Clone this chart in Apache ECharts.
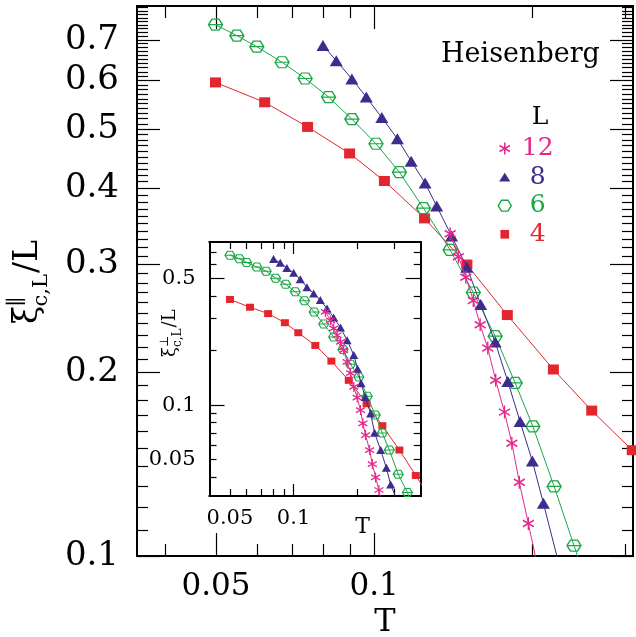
<!DOCTYPE html>
<html>
<head>
<meta charset="utf-8">
<script src="https://cdn.jsdelivr.net/npm/echarts@6/dist/echarts.min.js"></script>
<style>
  html, body { margin: 0; padding: 0; background: #fff; }
  #chart { width: 636px; height: 637px; }
</style>
</head>
<body>
<div id="chart"></div>
<script>
const FONT = '"DejaVu Serif", serif';
const C12 = '#e6288c', C8 = '#3b2c8e', C6 = '#1aa845', C4 = '#e3262d';

// ---- main panel: xi_parallel / L versus T ----
const T4  = [0.0499, 0.0619, 0.0747, 0.0898, 0.1046, 0.1247, 0.1501, 0.1792, 0.2193, 0.2594, 0.3098];
const Y4  = [0.596, 0.553, 0.504, 0.456, 0.411, 0.357, 0.300, 0.248, 0.202, 0.173, 0.149];
const T6  = [0.0499, 0.0548, 0.0598, 0.0668, 0.0739, 0.0819, 0.0907, 0.1008, 0.1117, 0.1241, 0.1395, 0.1544, 0.1699, 0.1855, 0.2004, 0.2200, 0.2400, 0.261];
const Y6  = [0.741, 0.711, 0.682, 0.643, 0.605, 0.564, 0.519, 0.473, 0.425, 0.371, 0.317, 0.270, 0.229, 0.192, 0.163, 0.130, 0.104, 0.0844];
const T8  = [0.0799, 0.0847, 0.0907, 0.0966, 0.1034, 0.1107, 0.1176, 0.1250, 0.1315, 0.1404, 0.1501, 0.1595, 0.1699, 0.1796, 0.1895, 0.2000, 0.2099, 0.236];
const Y8  = [0.685, 0.647, 0.604, 0.564, 0.522, 0.482, 0.443, 0.408, 0.374, 0.334, 0.297, 0.258, 0.224, 0.193, 0.166, 0.143, 0.122, 0.0822];
const T12 = [0.1395, 0.1446, 0.1494, 0.1544, 0.1591, 0.1645, 0.1703, 0.1770, 0.1828, 0.1889, 0.1965, 0.2114];
const Y12 = [0.337, 0.309, 0.286, 0.262, 0.239, 0.219, 0.194, 0.172, 0.153, 0.132, 0.113, 0.0844];

// ---- inset: xi_perp / L versus T ----
const iT4  = [0.0500, 0.0622, 0.0758, 0.0910, 0.1053, 0.1268, 0.1511, 0.1826, 0.2217, 0.2633, 0.3171, 0.3791, 0.4516];
const iY4  = [0.383, 0.347, 0.320, 0.285, 0.251, 0.2135, 0.175, 0.137, 0.1017, 0.0770, 0.0565, 0.0409, 0.0297];
const iT6  = [0.0500, 0.0554, 0.0600, 0.0670, 0.0742, 0.0823, 0.0918, 0.1019, 0.1127, 0.1252, 0.1389, 0.1549, 0.1714, 0.1861, 0.2038, 0.2234, 0.2438, 0.2633, 0.2842, 0.3130, 0.3461, 0.38];
const iY6  = [0.672, 0.643, 0.613, 0.579, 0.548, 0.502, 0.464, 0.422, 0.377, 0.327, 0.280, 0.238, 0.203, 0.168, 0.143, 0.112, 0.0881, 0.0701, 0.0565, 0.0415, 0.0329, 0.025];
const iT8  = [0.0804, 0.0865, 0.0930, 0.1001, 0.1076, 0.1157, 0.1245, 0.1339, 0.1440, 0.1549, 0.1668, 0.1793, 0.1929, 0.2009, 0.2088, 0.2182, 0.2316, 0.2419, 0.2585, 0.2750, 0.2883, 0.3045, 0.33];
const iY8  = [0.641, 0.610, 0.572, 0.537, 0.495, 0.447, 0.413, 0.380, 0.341, 0.305, 0.268, 0.228, 0.189, 0.159, 0.132, 0.111, 0.0900, 0.0704, 0.0565, 0.0451, 0.0364, 0.0312, 0.022];
const iT12 = [0.1415, 0.1495, 0.1549, 0.1608, 0.1668, 0.1728, 0.1794, 0.1861, 0.1929, 0.2001, 0.2075, 0.2129, 0.2193, 0.2291, 0.2360, 0.2446, 0.2536, 0.27];
const iY12 = [0.327, 0.294, 0.265, 0.243, 0.2235, 0.201, 0.173, 0.150, 0.126, 0.110, 0.0939, 0.0793, 0.0683, 0.0565, 0.0473, 0.0399, 0.0340, 0.025];

// ---- axes: ranges, ticks and labels ----
const mainTRange = [0.03538, 0.3108];
const mainYRange = [0.1, 0.795];
const mainTMajor = [0.05, 0.1];
const mainTLabels = ['0.05', '0.1'];
const mainTMinor = [0.04, 0.06, 0.07, 0.08, 0.09, 0.2, 0.3];
const mainYMajor = [0.1, 0.2, 0.3, 0.4, 0.5, 0.6, 0.7];
const mainYLabels = ['0.1', '0.2', '0.3', '0.4', '0.5', '0.6', '0.7'];
const mainYMinor = [];
for (let k = 11; k < 80; k++) if (k % 10 !== 0) mainYMinor.push(k / 100);

const insetTRange = [0.04, 0.40];
const insetYRange = [0.0315, 0.795];
const insetTLabelValues = [0.05, 0.1];
const insetTLabels = ['0.05', '0.1'];
const insetTMajor = [0.1];
const insetTMinor = [0.05, 0.06, 0.07, 0.08, 0.09, 0.2, 0.3];
const insetYLabelValues = [0.05, 0.1, 0.5];
const insetYLabels = ['0.05', '0.1', '0.5'];
const insetYMajor = [0.1, 0.5];
const insetYMinor = [0.04, 0.05, 0.06, 0.07, 0.08, 0.09, 0.2, 0.3, 0.4, 0.6, 0.7];

const legendNames = ['12', '8', '6', '4'];

// marker shapes
const STAR = 'path://M0,-1L0,1M-0.87,-0.5L0.87,0.5M-0.87,0.5L0.87,-0.5';
const HEX = 'path://M-1,0L-0.5,-0.87L0.5,-0.87L1,0L0.5,0.87L-0.5,0.87ZM-1,0L1,0';
// legend icons: same shapes, padded so they sit smaller inside the icon box
const ICON_STAR = 'path://M-1,-1M1,1M0,-0.86L0,0.86M-0.75,-0.43L0.75,0.43M-0.75,0.43L0.75,-0.43';
const ICON_TRI = 'path://M-1,-1M1,1M0,-0.62L0.8,0.62L-0.8,0.62Z';
const ICON_HEX = 'path://M-1,-1M1,1M-0.93,0L-0.46,-0.78L0.46,-0.78L0.93,0L0.46,0.78L-0.46,0.78Z';
const ICON_SQ = 'path://M-1,-1M1,1M-0.62,-0.62L0.62,-0.62L0.62,0.62L-0.62,0.62Z';

const zip = (xs, ys) => xs.map((x, i) => [x, ys[i]]);

function logAxis(grid, pos, range, ticks, tickLen, label) {
  const ax = {
    type: 'log', logBase: 10, gridIndex: grid, position: pos,
    min: range[0], max: range[1],
    axisLine: { show: true, onZero: false, lineStyle: { color: '#000', width: 2 } },
    axisTick: { show: true, inside: true, length: tickLen, customValues: ticks,
                lineStyle: { color: '#000', width: 1.2 } },
    axisLabel: { show: false },
    splitLine: { show: false }, minorTick: { show: false }, minorSplitLine: { show: false }
  };
  if (label) {
    ax.axisLabel = {
      show: true, customValues: label.values,
      formatter: v => {
        const i = label.values.findIndex(x => Math.abs(x - v) / x < 1e-6);
        return i >= 0 ? label.text[i] : '';
      },
      fontFamily: FONT, fontSize: label.size, color: '#000', margin: label.margin
    };
  }
  return ax;
}

function lineSeries(name, data, xi, yi, symbol, size, color, filled, bw, z) {
  return {
    type: 'line', name, data, xAxisIndex: xi, yAxisIndex: yi,
    symbol, symbolSize: size, showSymbol: true, clip: true, z,
    lineStyle: { color, width: 1 },
    itemStyle: { color: filled ? color : 'rgba(0,0,0,0)', borderColor: color, borderWidth: bw },
    emphasis: { disabled: true }, silent: true
  };
}

const chart = echarts.init(document.getElementById('chart'), null, { renderer: 'canvas' });

const mainGrid = { left: 137, top: 6, right: 3, bottom: 81, outerBoundsMode: 'none', containLabel: false };
const insetGrid = { left: 209.5, top: 242, right: 215.3, bottom: 141, outerBoundsMode: 'none', containLabel: false };

const xAxes = [
  Object.assign(logAxis(0, 'bottom', mainTRange, mainTMajor, 23,
    { values: mainTMajor, text: mainTLabels, size: 31, margin: 15 }),
    { name: 'T', nameLocation: 'middle', nameGap: 49,
      nameTextStyle: { fontFamily: FONT, fontSize: 32, color: '#000' } }),
  logAxis(0, 'top', mainTRange, mainTMajor, 23),
  logAxis(1, 'bottom', mainTRange, mainTMinor, 12),
  logAxis(1, 'top', mainTRange, mainTMinor, 12),
  logAxis(2, 'bottom', insetTRange, insetTMajor, 12,
    { values: insetTLabelValues, text: insetTLabels, size: 21, margin: 12 }),
  logAxis(2, 'top', insetTRange, insetTMajor, 12),
  logAxis(3, 'bottom', insetTRange, insetTMinor, 7),
  logAxis(3, 'top', insetTRange, insetTMinor, 7)
];
const yAxes = [
  logAxis(0, 'left', mainYRange, mainYMajor, 23,
    { values: mainYMajor, text: mainYLabels, size: 34, margin: 18 }),
  logAxis(0, 'right', mainYRange, mainYMajor, 23),
  logAxis(1, 'left', mainYRange, mainYMinor, 11),
  logAxis(1, 'right', mainYRange, mainYMinor, 11),
  logAxis(2, 'left', insetYRange, insetYMajor, 15,
    { values: insetYLabelValues, text: insetYLabels, size: 21, margin: 14 }),
  logAxis(2, 'right', insetYRange, insetYMajor, 15),
  logAxis(3, 'left', insetYRange, insetYMinor, 7),
  logAxis(3, 'right', insetYRange, insetYMinor, 7)
];

// rotated axis title built from pieces: xi, superscript, subscript, "/L"
function rotatedTitle(x0, y0, big, small, sup) {
  const w = big * 0.5;
  const subW = small * 1.55;
  return {
    type: 'group', x: x0, y: y0, rotation: Math.PI / 2, silent: true,
    children: [
      { type: 'text', x: 0, y: -0.3 * big, style: { text: 'ξ', font: big + 'px ' + FONT, fill: '#000', align: 'left', verticalAlign: 'middle' } },
      { type: 'text', x: w + 1, y: -0.62 * big, style: { text: sup, font: small + 'px ' + FONT, fill: '#000', align: 'left', verticalAlign: 'middle' } },
      { type: 'text', x: w + 1, y: 0.12 * big, style: { text: 'c,L', font: small + 'px ' + FONT, fill: '#000', align: 'left', verticalAlign: 'middle' } },
      { type: 'text', x: w + subW + 2, y: -0.3 * big, style: { text: '/L', font: big + 'px ' + FONT, fill: '#000', align: 'left', verticalAlign: 'middle' } }
    ]
  };
}

chart.setOption({
  animation: false,
  backgroundColor: '#fff',
  title: {
    text: 'Heisenberg', left: 436, top: 36,
    textStyle: { fontFamily: FONT, fontSize: 27, fontWeight: 'normal', color: '#000' }
  },
  legend: {
    orient: 'vertical', left: 492, top: 131, itemWidth: 14, itemHeight: 14, itemGap: 3.6,
    selectedMode: false,
    data: [
      { name: '12', icon: ICON_STAR, itemStyle: { color: C12, borderColor: C12, borderWidth: 1.5 }, textStyle: { color: C12 } },
      { name: '8', icon: ICON_TRI, itemStyle: { color: C8, borderWidth: 0 }, textStyle: { color: C8 } },
      { name: '6', icon: ICON_HEX, itemStyle: { color: 'rgba(0,0,0,0)', borderColor: C6, borderWidth: 1.4 }, textStyle: { color: C6 } },
      { name: '4', icon: ICON_SQ, itemStyle: { color: C4, borderWidth: 0 }, textStyle: { color: C4 } }
    ],
    formatter: n => '{t|' + n + '}',
    textStyle: { fontFamily: FONT, fontSize: 25,
      rich: { t: { width: 42, align: 'center', fontFamily: FONT, fontSize: 25, lineHeight: 26 } } }
  },
  grid: [
    Object.assign({ show: false }, mainGrid),
    Object.assign({ show: false }, mainGrid),
    Object.assign({ show: true, backgroundColor: '#fff', borderWidth: 0 }, insetGrid),
    Object.assign({ show: false }, insetGrid)
  ],
  xAxis: xAxes,
  yAxis: yAxes,
  graphic: [
    rotatedTitle(38, 324, 33, 21, '∥'),
    rotatedTitle(176, 357, 18, 12, '⊥'),
    { type: 'text', x: 540, y: 117, silent: true,
      style: { text: 'L', font: '25px ' + FONT, fill: '#000', align: 'center', verticalAlign: 'middle' } },
    { type: 'text', x: 362.5, y: 527, silent: true,
      style: { text: 'T', font: '22px ' + FONT, fill: '#000', align: 'center', verticalAlign: 'middle' } }
  ],
  series: [
    lineSeries('4', zip(T4, Y4), 0, 0, 'rect', [11, 10], C4, true, 0, 3),
    lineSeries('6', zip(T6, Y6), 0, 0, HEX, [14, 11], C6, false, 1.3, 4),
    lineSeries('8', zip(T8, Y8), 0, 0, 'triangle', [13, 11], C8, true, 0, 5),
    lineSeries('12', zip(T12, Y12), 0, 0, STAR, [11, 13], C12, true, 1.5, 6),
    lineSeries('4', zip(iT4, iY4), 4, 4, 'rect', [8, 7], C4, true, 0, 3),
    lineSeries('6', zip(iT6, iY6), 4, 4, HEX, [10, 8], C6, false, 1.1, 4),
    lineSeries('8', zip(iT8, iY8), 4, 4, 'triangle', [9, 8], C8, true, 0, 5),
    lineSeries('12', zip(iT12, iY12), 4, 4, STAR, [9, 10], C12, true, 1.3, 6)
  ]
});
</script>
</body>
</html>
